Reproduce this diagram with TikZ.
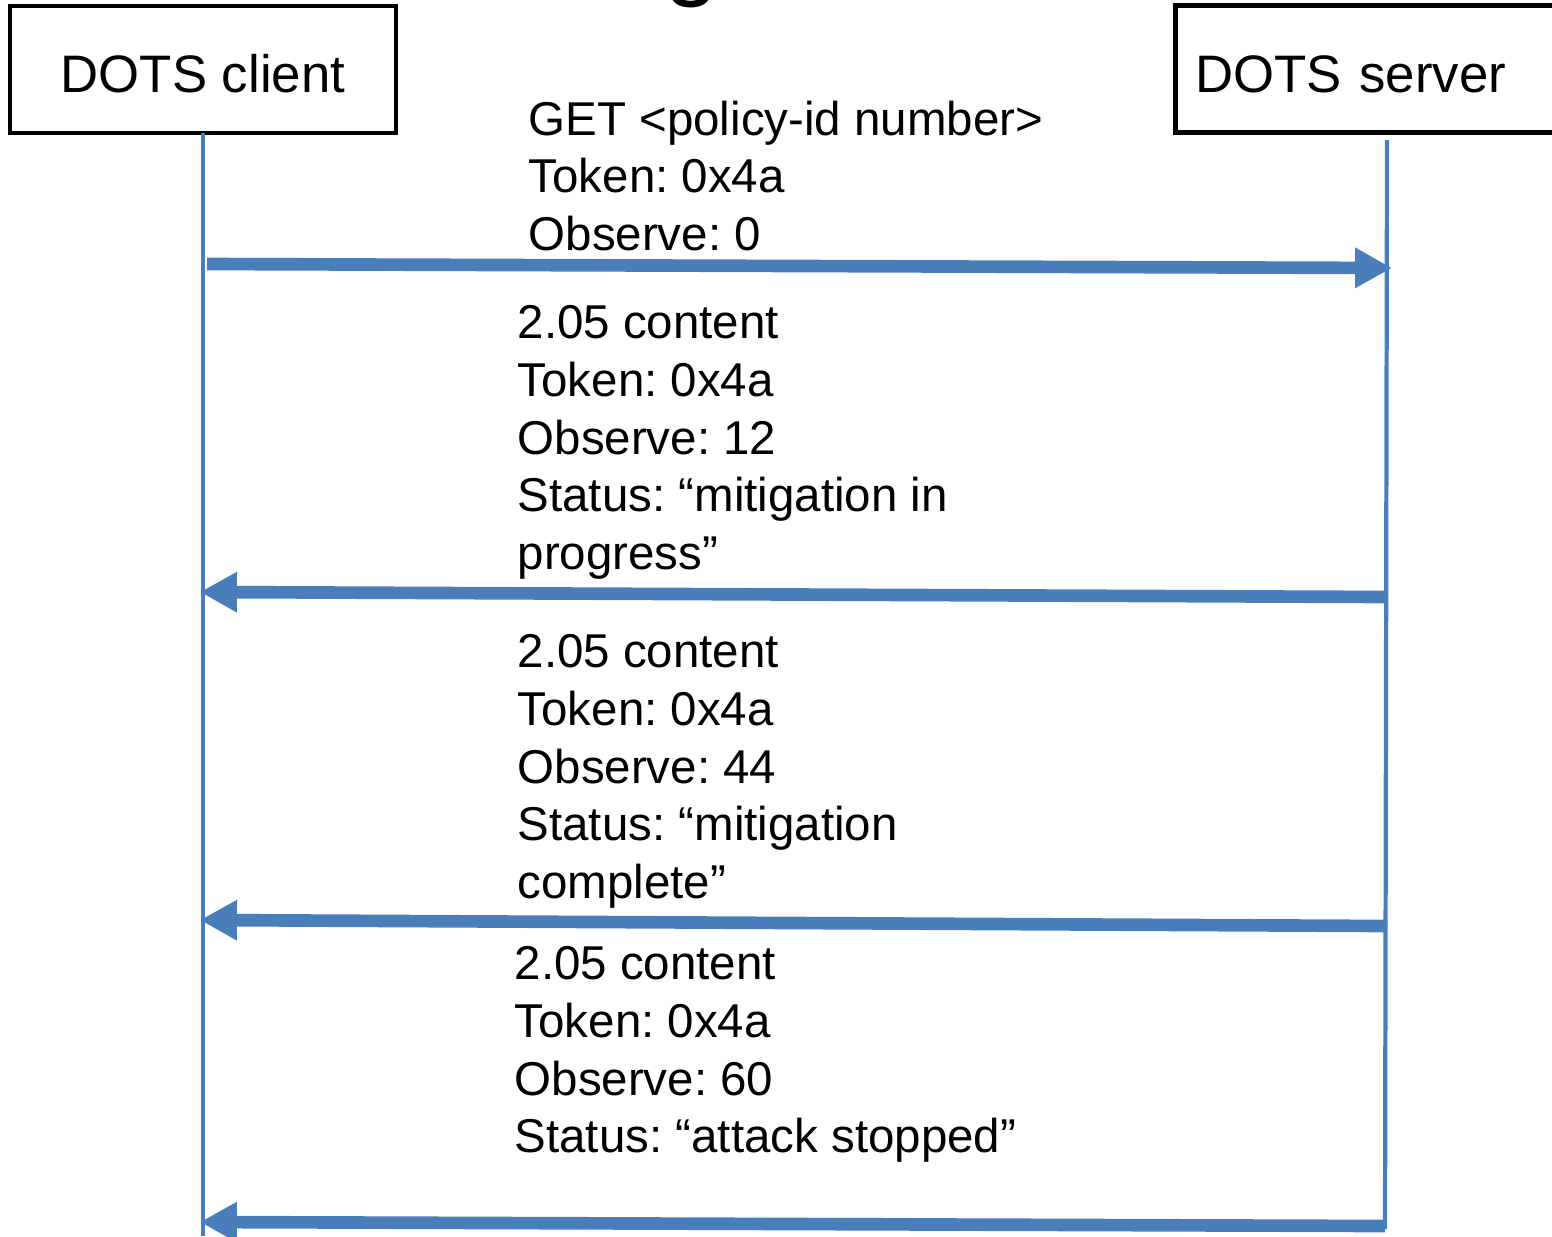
\documentclass[tikz,border=0pt]{standalone}
\usepackage{fontspec}
\setmainfont{Liberation Sans}
\usepackage{tikz}
\usetikzlibrary{arrows.meta, positioning}
\definecolor{dotsblue}{RGB}{74,126,187}
\frenchspacing

\begin{document}
\begin{tikzpicture}[
    x=0.01cm, y=-0.01cm,
    actor/.style={draw, line width=1.3pt, minimum height=1.27cm,
                  text height=13.2pt, text depth=0pt,
                  font=\fontsize{15pt}{18pt}\selectfont},
    msg/.style={anchor=north west, inner sep=0pt, align=left,
                font=\fontsize{13.5pt}{16.4pt}\selectfont},
    life/.style={draw=dotsblue, line width=1.2pt},
    call/.style={draw=dotsblue, line width=3.6pt,
                 -{Triangle[length=10.5pt, width=10.8pt]}}
]
\clip (0,0) rectangle (1552,1236);
\useasboundingbox (0,0) rectangle (1552,1236);

% title, cut off at the top edge
\node[anchor=base, inner sep=0pt, font=\fontsize{28pt}{30pt}\selectfont] (title) at (692,-13) {g};

% actors
\node[actor, minimum width=3.86cm] (client) at (203,69.5) {DOTS client};
\node[actor, anchor=west, align=left, text width=3.9cm, inner xsep=0.2cm] (server) at (1173,69) {DOTS server};

% lifelines
\coordinate (ctop) at (203,133);
\coordinate (cend) at (203,1236);
\coordinate (stop) at (1387,140);
\coordinate (send) at (1385,1229);
\draw[life] (ctop) -- (cend);
\draw[life] (stop) -- (send);

% messages
\node[msg] (get) at (528,100) {GET <policy-id number>\\Token: 0x4a\\Observe: 0};
\node[msg] (resp1) at (517,305) {2.05 content\\Token: 0x4a\\Observe: 12\\Status: “mitigation in\\progress”};
\node[msg] (resp2) at (517,634) {2.05 content\\Token: 0x4a\\Observe: 44\\Status: “mitigation\\complete”};
\node[msg] (resp3) at (514,946) {2.05 content\\Token: 0x4a\\Observe: 60\\Status: “attack stopped”};

\coordinate (m1a) at (207,264);
\coordinate (m1b) at (1392,268);
\coordinate (m2a) at (1387,597);
\coordinate (m2b) at (200,592);
\coordinate (m3a) at (1387,926);
\coordinate (m3b) at (200,920);
\coordinate (m4a) at (1385,1226);
\coordinate (m4b) at (200,1222);
\draw[call] (m1a) -- (m1b);
\draw[call] (m2a) -- (m2b);
\draw[call] (m3a) -- (m3b);
\draw[call] (m4a) -- (m4b);
\end{tikzpicture}
\end{document}
